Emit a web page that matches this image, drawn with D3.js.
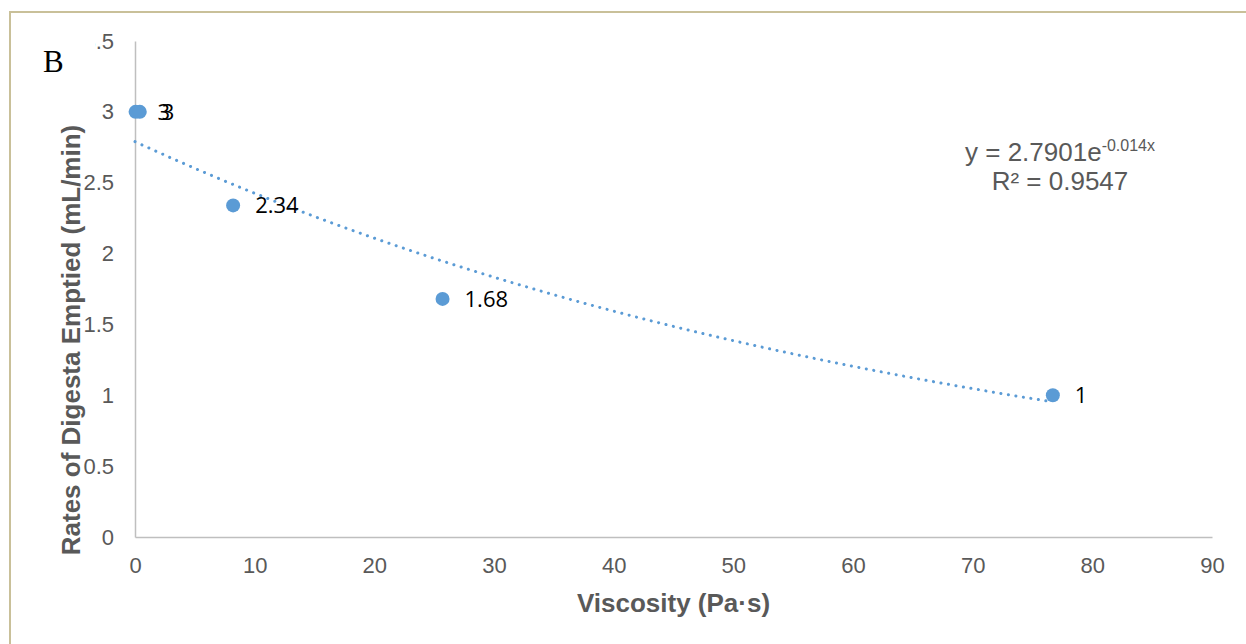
<!DOCTYPE html>
<html>
<head>
<meta charset="utf-8">
<script src="https://cdn.jsdelivr.net/npm/d3@7"></script>
<style>
  body { margin: 0; background: #fff; }
</style>
</head>
<body>
<svg class="MainSvg"></svg>
<script>
    // data
    var viscosity = [0.05, 0.4, 8.2, 25.7, 76.7];
    var rates = [3, 3, 2.34, 1.68, 1];
    var pointLabels = ["3", "3", "2.34", "1.68", "1"];
    var xTicks = [0, 10, 20, 30, 40, 50, 60, 70, 80, 90];
    var yTicks = [0, 0.5, 1, 1.5, 2, 2.5, 3, 3.5];
    var fitA = 2.7901, fitB = -0.014;

    var width = 1246, height = 644;
    var grey = "#595959", blue = "#5b9bd5";
    var sans = "Liberation Sans, Arial, sans-serif";

    var svg = d3.select(".MainSvg")
        .attr("width", width)
        .attr("height", height);

    // frame
    svg.append("rect")
        .attr("x", 10).attr("y", 12)
        .attr("width", 1250).attr("height", 650)
        .attr("fill", "none")
        .attr("stroke", "#c9c099")
        .attr("stroke-width", 2);

    var x = d3.scaleLinear().domain([0, 90]).range([135, 1212]);
    var y = d3.scaleLinear().domain([0, 3.5]).range([537, 41]);

    // axes, no tick marks
    var xAxis = svg.append("g")
        .attr("transform", "translate(0," + y(0) + ")")
        .call(d3.axisBottom(x).tickValues(xTicks).tickSize(0).tickPadding(20));
    var yAxis = svg.append("g")
        .attr("transform", "translate(" + x(0) + ",0)")
        .call(d3.axisLeft(y).tickValues(yTicks).tickFormat(d3.format("~g"))
            .tickSize(0).tickPadding(21));

    [xAxis, yAxis].forEach(function (g) {
        g.select(".domain").attr("stroke", "#bfbfbf").attr("stroke-width", 1.5);
        g.selectAll("text")
            .attr("fill", grey)
            .style("font-family", sans)
            .style("font-size", "22px");
    });

    // the top label is cut off in the original, only ".5" shows
    svg.append("clipPath").attr("id", "topClip")
        .append("rect").attr("x", 95 - x(0)).attr("y", -20)
        .attr("width", 40).attr("height", 40);
    yAxis.selectAll(".tick")
        .filter(function (d) { return d === 3.5; })
        .select("text")
        .attr("clip-path", "url(#topClip)");

    // trendline
    var fit = d3.range(0, 76.8, 0.5).map(function (v) {
        return [v, fitA * Math.exp(fitB * v)];
    });
    svg.append("path")
        .datum(fit)
        .attr("fill", "none")
        .attr("stroke", blue)
        .attr("stroke-width", 3)
        .attr("stroke-linecap", "round")
        .attr("stroke-dasharray", "0.1 7.5")
        .attr("d", d3.line()
            .x(function (d) { return x(d[0]); })
            .y(function (d) { return y(d[1]); }));

    // points
    var pts = viscosity.map(function (v, i) {
        return { v: v, r: rates[i], label: pointLabels[i] };
    });
    svg.selectAll("circle.pt")
        .data(pts)
        .enter()
        .append("circle")
        .attr("class", "pt")
        .attr("cx", function (d) { return x(d.v); })
        .attr("cy", function (d) { return y(d.r); })
        .attr("r", 7)
        .attr("fill", blue);

    svg.selectAll("text.lbl")
        .data(pts)
        .enter()
        .append("text")
        .attr("class", "lbl")
        .attr("x", function (d) { return x(d.v) + 22; })
        .attr("y", function (d) { return y(d.r) + 8; })
        .attr("fill", "#000")
        .style("font-family", "Open Sans, Noto Sans, sans-serif")
        .style("font-size", "22px")
        .text(function (d) { return d.label; });

    // equation
    var eq = svg.append("text")
        .attr("x", 1060).attr("y", 161)
        .attr("text-anchor", "middle")
        .attr("fill", grey)
        .style("font-family", sans)
        .style("font-size", "26px");
    eq.append("tspan").text("y = " + fitA + "e");
    eq.append("tspan").attr("dy", -10).style("font-size", "16px").text(fitB + "x");
    svg.append("text")
        .attr("x", 1060).attr("y", 190)
        .attr("text-anchor", "middle")
        .attr("fill", grey)
        .style("font-family", sans)
        .style("font-size", "26px")
        .text("R² = 0.9547");

    // axis titles
    svg.append("text")
        .attr("x", (x(0) + x(90)) / 2).attr("y", 612)
        .attr("text-anchor", "middle")
        .attr("fill", grey)
        .style("font-family", sans)
        .style("font-weight", "bold")
        .style("font-size", "26px")
        .text("Viscosity (Pa·s)");
    svg.append("text")
        .attr("transform", "translate(80,340) rotate(-90)")
        .attr("text-anchor", "middle")
        .attr("fill", grey)
        .style("font-family", sans)
        .style("font-weight", "bold")
        .style("font-size", "26px")
        .text("Rates of Digesta Emptied (mL/min)");

    // panel letter
    svg.append("text")
        .attr("x", 43).attr("y", 72)
        .attr("fill", "#000")
        .style("font-family", "Liberation Serif, Times New Roman, serif")
        .style("font-size", "31px")
        .text("B");
</script>
</body>
</html>
